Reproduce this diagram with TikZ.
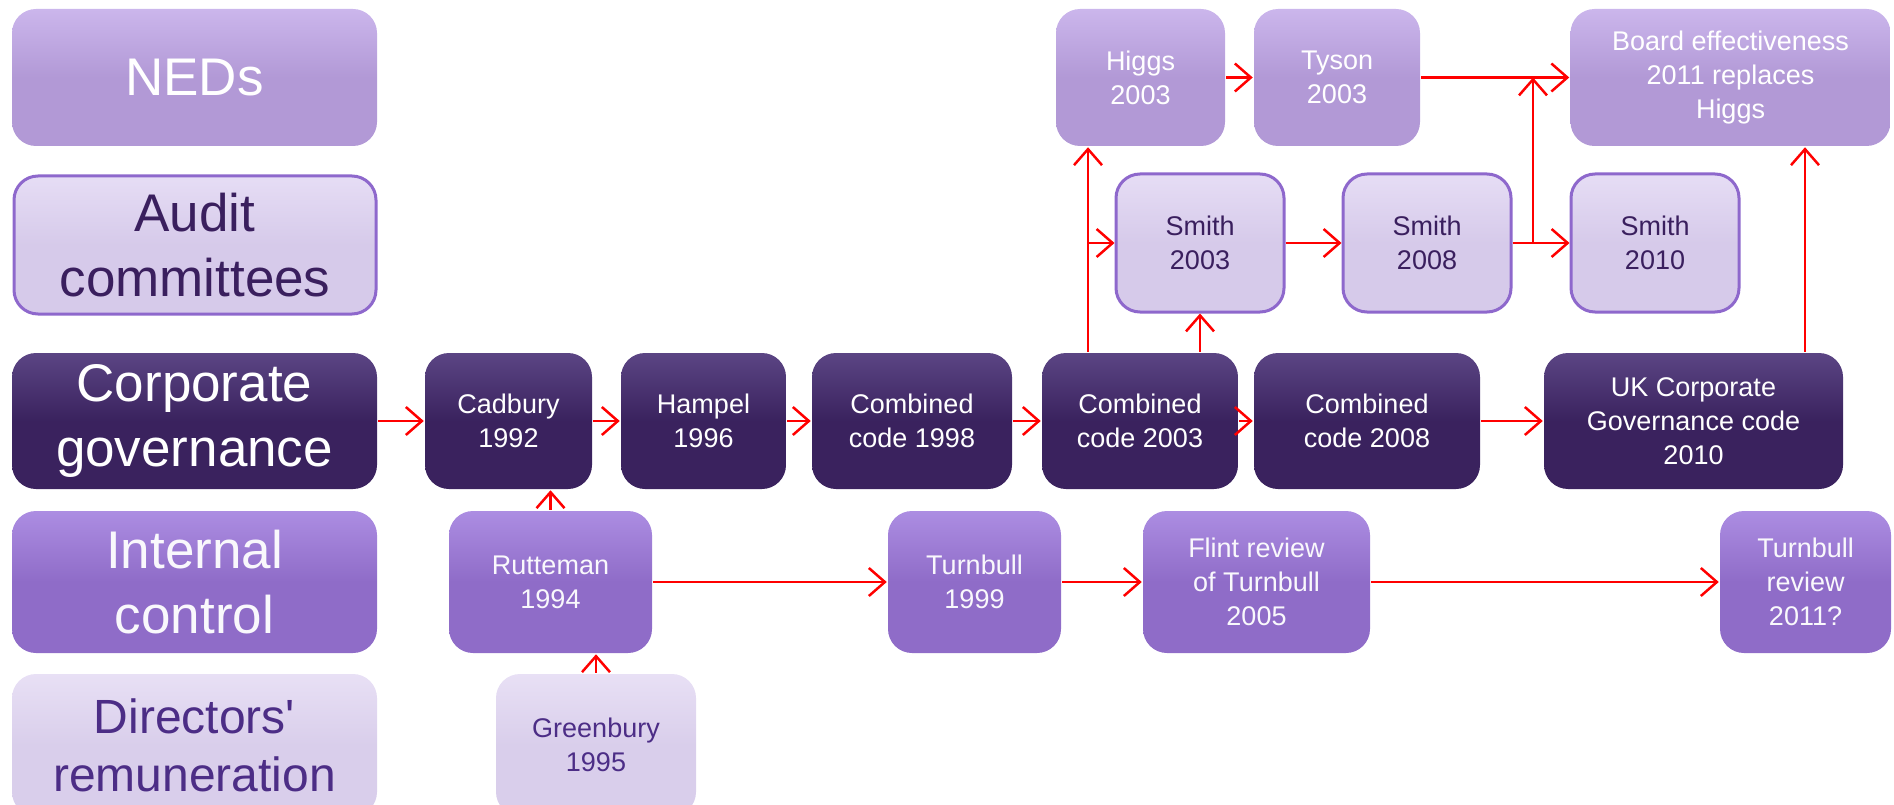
\documentclass[tikz,border=0pt]{standalone}
\usepackage{fontspec}
\setmainfont{Liberation Sans}
\usetikzlibrary{arrows.meta}

\definecolor{cgdark}{HTML}{3A225E}
\definecolor{cgtop}{HTML}{5B4584}
\definecolor{nedfill}{HTML}{B299D6}
\definecolor{nedtop}{HTML}{CBB6EC}
\definecolor{auditfill}{HTML}{D6CAEA}
\definecolor{audittop}{HTML}{E6DDF5}
\definecolor{auditline}{HTML}{8E68CC}
\definecolor{audittext}{HTML}{3A1F5E}
\definecolor{icfill}{HTML}{8F6CC8}
\definecolor{ictop}{HTML}{AC8DE2}
\definecolor{dirfill}{HTML}{D9CEEB}
\definecolor{dirtop}{HTML}{E8E0F5}
\definecolor{dirtext}{HTML}{4C2D86}

\newcommand\rowfont{\fontsize{53}{65}\selectfont}
\newcommand\itemfont{\fontsize{27}{34}\selectfont}

\begin{document}
\begin{tikzpicture}[x=1pt, y=-1pt, line width=2.5pt,
  box/.style={rounded corners=24pt, align=center, inner sep=0pt, font=\itemfont},
  nedbox/.style={box, minimum height=137pt, top color=nedtop, bottom color=nedfill, middle color=nedfill, text=white},
  auditbox/.style={box, minimum height=138pt, draw=auditline, line width=3pt, top color=audittop, bottom color=auditfill, middle color=auditfill, text=audittext},
  cgbox/.style={box, minimum height=136pt, top color=cgtop, bottom color=cgdark, middle color=cgdark, text=white},
  icbox/.style={box, minimum height=142pt, top color=ictop, bottom color=icfill, middle color=icfill, text=white!95!icfill},
  dirbox/.style={box, minimum height=142pt, top color=dirtop, bottom color=dirfill, middle color=dirfill, text=dirtext},
  rowlabel/.style={minimum width=365pt, font=\rowfont},
  arr/.style={draw=red, -{Straight Barb[length=16pt, width=28pt]}}]

  \useasboundingbox (0,0) rectangle (1894,805);
  \clip (0,0) rectangle (1894,805);

  % Row labels on the left
  \node[nedbox, rowlabel] (lblned) at (194.5,77.5) {NEDs};
  \node[auditbox, rowlabel, minimum width=362pt] (lblaudit) at (195,245) {Audit\\committees};
  \node[cgbox, rowlabel] (lblcg) at (194.5,421) {Corporate\\governance};
  \node[icbox, rowlabel] (lblic) at (194.5,582) {Internal\\control};
  \node[dirbox, rowlabel, font=\fontsize{48}{58}\selectfont] (lbldir) at (194.5,745) {Directors\textquotesingle\\remuneration};

  % Corporate governance codes
  \node[cgbox, minimum width=167pt] (cadbury) at (508.5,421) {Cadbury\\1992};
  \node[cgbox, minimum width=165pt] (hampel) at (703.5,421) {Hampel\\1996};
  \node[cgbox, minimum width=200pt] (cc98) at (912,421) {Combined\\code 1998};
  \node[cgbox, minimum width=196pt] (cc03) at (1140,421) {Combined\\code 2003};
  \node[cgbox, minimum width=226pt] (cc08) at (1367,421) {Combined\\code 2008};
  \node[cgbox, minimum width=299pt] (ukcode) at (1693.5,421) {UK Corporate\\Governance code\\2010};

  % Internal control
  \node[icbox, minimum width=203pt] (rutteman) at (550.5,582) {Rutteman\\1994};
  \node[icbox, minimum width=173pt] (turnbull) at (974.5,582) {Turnbull\\1999};
  \node[icbox, minimum width=227pt] (flint) at (1256.5,582) {Flint review\\of Turnbull\\2005};
  \node[icbox, minimum width=171pt] (turnrev) at (1805.5,582) {Turnbull\\review\\2011?};

  % Directors' remuneration
  \node[dirbox, minimum width=200pt] (greenbury) at (596,745) {Greenbury\\1995};

  % NEDs
  \node[nedbox, minimum width=169pt] (higgs) at (1140.5,77.5) {Higgs\\2003};
  \node[nedbox, minimum width=166pt] (tyson) at (1337,77.5) {Tyson\\2003};
  \node[nedbox, minimum width=320pt] (board) at (1730.5,77.5) {Board effectiveness\\2011 replaces\\Higgs};

  % Audit committees
  \node[auditbox, minimum width=168pt] (smith03) at (1200,243) {Smith\\2003};
  \node[auditbox, minimum width=168pt] (smith08) at (1427,243) {Smith\\2008};
  \node[auditbox, minimum width=168pt] (smith10) at (1655,243) {Smith\\2010};

  % fork points of the branching lines
  \coordinate (higgsx) at (1088,0);
  \coordinate (smithx) at (1533,0);
  \coordinate (boardx) at (1805,0);

  % Arrows
  \draw[arr] (lblcg) -- (cadbury);
  \draw[arr] (cadbury) -- (hampel);
  \draw[arr] (hampel) -- (cc98);
  \draw[arr] (cc98) -- (cc03);
  \draw[arr] (cc03) -- (cc08);
  \draw[arr] (cc08) -- (ukcode);
  \draw[arr] (rutteman.north) -- (rutteman.north |- cadbury.south);
  \draw[arr] (greenbury.north) -- (greenbury.north |- rutteman.south);
  \draw[arr] (rutteman) -- (turnbull);
  \draw[arr] (turnbull) -- (flint);
  \draw[arr] (flint) -- (turnrev);
  \draw[arr] (higgsx |- cc03.north) -- (higgsx |- higgs.south);
  \draw[arr] (higgsx |- smith03.west) -- (smith03.west);
  \draw[arr] (smith03.south |- cc03.north) -- (smith03.south);
  \draw[arr] (higgs) -- (tyson);
  \draw[arr] (tyson) -- (board);
  \draw[arr] (smith03) -- (smith08);
  \draw[arr] (smith08) -- (smith10);
  \draw[arr] (smithx |- smith08.east) -- (smithx |- board.west);
  \draw[arr] (boardx |- ukcode.north) -- (boardx |- board.south);

\end{tikzpicture}
\end{document}
